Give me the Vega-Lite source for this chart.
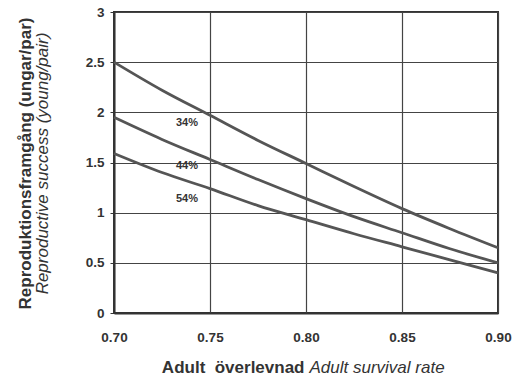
{
  "$schema": "https://vega.github.io/schema/vega-lite/v6.json",
  "width": 384,
  "height": 301,
  "autosize": {"type": "none"},
  "padding": {"left": 114, "top": 12, "right": 32, "bottom": 64},
  "background": "white",
  "config": {
    "view": {"stroke": "#333333", "strokeWidth": 2},
    "axis": {
      "labelFont": "Liberation Sans",
      "labelFontWeight": "bold",
      "labelFontSize": 13.5,
      "labelColor": "#333333",
      "labelFlush": false,
      "titleFont": "Liberation Sans",
      "titleFontSize": 17,
      "titleColor": "#333333",
      "gridColor": "#444444",
      "gridWidth": 1.2,
      "gridOpacity": 1,
      "domainColor": "#333333",
      "domainWidth": 2
    }
  },
  "datasets": {
    "curves": [
      {"x": 0.700, "y": 2.50, "s": "34%"},
      {"x": 0.725, "y": 2.22, "s": "34%"},
      {"x": 0.750, "y": 1.97, "s": "34%"},
      {"x": 0.775, "y": 1.72, "s": "34%"},
      {"x": 0.800, "y": 1.49, "s": "34%"},
      {"x": 0.825, "y": 1.26, "s": "34%"},
      {"x": 0.850, "y": 1.04, "s": "34%"},
      {"x": 0.875, "y": 0.84, "s": "34%"},
      {"x": 0.900, "y": 0.65, "s": "34%"},
      {"x": 0.700, "y": 1.95, "s": "44%"},
      {"x": 0.725, "y": 1.73, "s": "44%"},
      {"x": 0.750, "y": 1.53, "s": "44%"},
      {"x": 0.775, "y": 1.33, "s": "44%"},
      {"x": 0.800, "y": 1.14, "s": "44%"},
      {"x": 0.825, "y": 0.96, "s": "44%"},
      {"x": 0.850, "y": 0.80, "s": "44%"},
      {"x": 0.875, "y": 0.64, "s": "44%"},
      {"x": 0.900, "y": 0.50, "s": "44%"},
      {"x": 0.700, "y": 1.59, "s": "54%"},
      {"x": 0.725, "y": 1.40, "s": "54%"},
      {"x": 0.750, "y": 1.24, "s": "54%"},
      {"x": 0.775, "y": 1.07, "s": "54%"},
      {"x": 0.800, "y": 0.93, "s": "54%"},
      {"x": 0.825, "y": 0.79, "s": "54%"},
      {"x": 0.850, "y": 0.66, "s": "54%"},
      {"x": 0.875, "y": 0.53, "s": "54%"},
      {"x": 0.900, "y": 0.40, "s": "54%"}
    ],
    "labels": [
      {"x": 0.738, "y": 1.89, "label": "34%"},
      {"x": 0.738, "y": 1.47, "label": "44%"},
      {"x": 0.738, "y": 1.14, "label": "54%"}
    ],
    "dummy": [{"x": 0.8, "y": 1.5}]
  },
  "resolve": {"axis": {"x": "independent", "y": "independent"}},
  "layer": [
    {
      "data": {"name": "curves"},
      "mark": {"type": "line", "interpolate": "monotone", "strokeWidth": 2.8, "color": "#555555"},
      "encoding": {
        "x": {
          "field": "x", "type": "quantitative",
          "scale": {"domain": [0.7, 0.9], "zero": false, "nice": false},
          "axis": {
            "orient": "bottom",
            "values": [0.7, 0.75, 0.8, 0.85, 0.9], "format": ".2f",
            "grid": true, "ticks": false, "labelPadding": 17,
            "title": "Adult\u00a0\u00a0överlevnad", "titleFontWeight": "bold",
            "titleX": 190, "titleY": 54, "titleAlign": "right", "titleBaseline": "middle", "titleAnchor": null
          }
        },
        "y": {
          "field": "y", "type": "quantitative",
          "scale": {"domain": [0, 3], "nice": false},
          "axis": {
            "orient": "left",
            "values": [0, 0.5, 1, 1.5, 2, 2.5, 3], "format": "~g",
            "grid": true, "ticks": true, "tickSize": 4, "tickColor": "#333333", "labelPadding": 6,
            "title": "Reproductive success (young/pair)", "titleFontWeight": "normal", "titleFontStyle": "italic",
            "titleX": -72, "titleY": 151, "titleAngle": -90, "titleAlign": "center", "titleBaseline": "middle"
          }
        },
        "detail": {"field": "s", "type": "nominal"}
      }
    },
    {
      "data": {"name": "labels"},
      "mark": {"type": "text", "font": "Liberation Sans", "fontWeight": "bold", "fontSize": 11, "color": "#333333"},
      "encoding": {
        "x": {"field": "x", "type": "quantitative", "axis": null},
        "y": {"field": "y", "type": "quantitative", "axis": null},
        "text": {"field": "label"}
      }
    },
    {
      "data": {"name": "dummy"},
      "mark": {"type": "point", "opacity": 0},
      "encoding": {
        "x": {
          "field": "x", "type": "quantitative",
          "axis": {
            "orient": "bottom",
            "labels": false, "ticks": false, "domain": false, "grid": false,
            "title": "Adult survival rate", "titleFontWeight": "normal", "titleFontStyle": "italic",
            "titleX": 195, "titleY": 54, "titleAlign": "left", "titleBaseline": "middle", "titleAnchor": null
          }
        },
        "y": {
          "field": "y", "type": "quantitative",
          "axis": {
            "orient": "left",
            "labels": false, "ticks": false, "domain": false, "grid": false,
            "title": "Reproduktionsframgång (ungar/par)", "titleFontWeight": "bold",
            "titleX": -89, "titleY": 151, "titleAngle": -90, "titleAlign": "center", "titleBaseline": "middle"
          }
        }
      }
    }
  ]
}
